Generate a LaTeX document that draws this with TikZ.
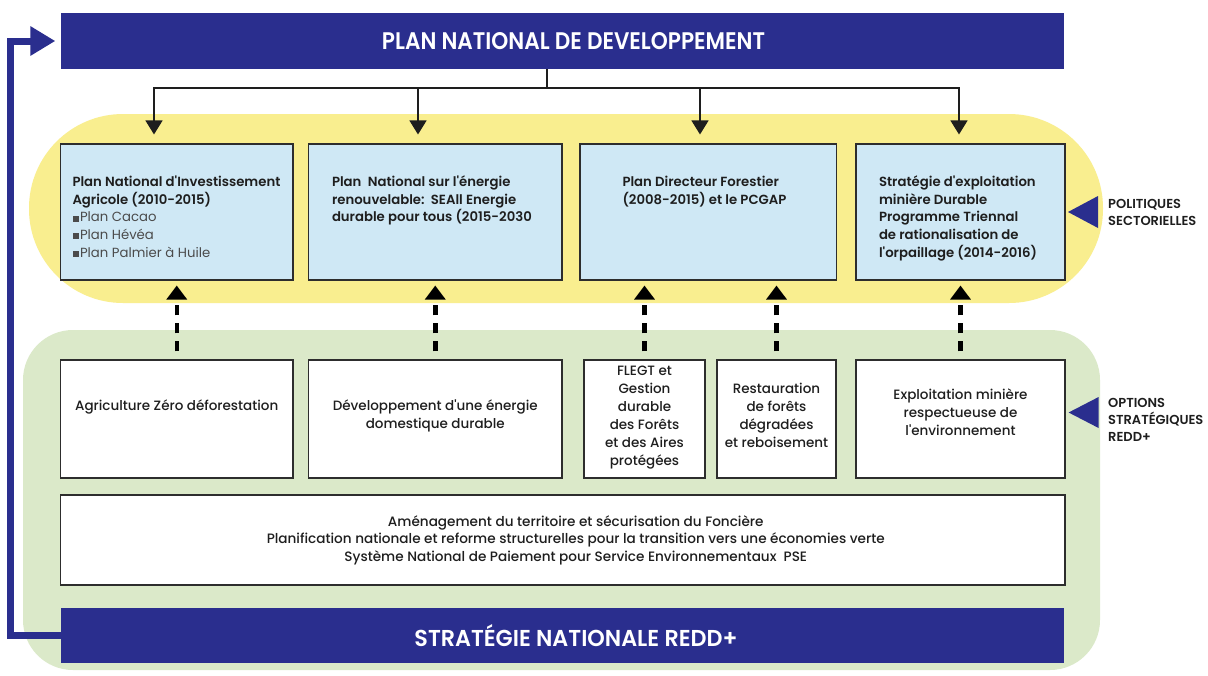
\documentclass[tikz,border=0pt]{standalone}
\usepackage{fontspec}
\usepackage{graphicx}
\setmainfont{Poppins}
\newfontfamily\psb{Poppins SemiBold}
\newfontfamily\pmed{Poppins Medium}
\usetikzlibrary{arrows.meta}
\definecolor{navy}{RGB}{42,46,142}
\definecolor{bandY}{RGB}{249,238,143}
\definecolor{bandG}{RGB}{219,233,201}
\definecolor{lblue}{RGB}{207,232,245}
\definecolor{edge}{RGB}{45,45,45}
\definecolor{ink}{RGB}{30,30,30}
\newcommand\sqb{\rule{6pt}{6pt}\hspace{1.5pt}}
\newcommand\boxtext[5]{\parbox[c][#1][t]{#2}{\raggedright\leftskip=#3\relax\vspace*{#4}\strut #5}}
\newcommand\ctext[4]{\parbox[c][#1][c]{#2}{\centering #4\par\vspace{#3}}}
\begin{document}
\begin{tikzpicture}[x=1pt,y=-1pt,
  banner/.style={fill=navy,text=white,inner sep=0pt,font=\psb},
  bbox/.style={draw=edge,line width=1.1pt,fill=lblue,inner sep=0pt,minimum height=136pt,text=ink,font=\psb\fontsize{13.25}{17.7}\selectfont},
  wbox/.style={draw=edge,line width=1.1pt,fill=white,inner sep=0pt,minimum height=118pt,text=ink,font=\pmed\fontsize{13.5}{18}\selectfont},
  conn/.style={draw=ink,line width=1.3pt},
  downar/.style={conn,-{Triangle[width=17pt,length=14pt]},shorten >=9pt},
  upar/.style={draw=black,line width=4.5pt,dash pattern=on 10pt off 8pt,-{Triangle[width=20pt,length=14pt]},shorten >=5pt,shorten <=8pt},
  fb/.style={draw=navy,line width=7pt,-{Triangle[width=28pt,length=25pt]},shorten >=5.5pt},
  side/.style={anchor=west,align=left,inner sep=0pt,text=ink,font=\psb\fontsize{13}{17}\selectfont}]
\useasboundingbox[fill=white] (0,0) rectangle (1208,675);
% bands
\path[fill=bandY,rounded corners=94pt] (29,114) rectangle (1103,303);
\path[fill=bandG,rounded corners=50pt] (23,330) rectangle (1100,670);
% banners
\node[banner,minimum width=1003pt,minimum height=56pt] (top) at (562.5,41)
  {\hspace*{22pt}\resizebox{383pt}{\height}{\fontsize{24}{24}\selectfont PLAN NATIONAL DE DEVELOPPEMENT}};
\node[banner,minimum width=1003pt,minimum height=55pt] (bot) at (562.5,635.5)
  {\hspace*{27pt}\resizebox{323pt}{\height}{\fontsize{23}{23}\selectfont STRATÉGIE NATIONALE REDD+}};
% policy boxes
\node[bbox,minimum width=232.5pt] (b1) at (176.75,212) {\boxtext{136pt}{232.5pt}{12pt}{30pt}{Plan National d'Investissement\\Agricole (2010-2015)\\{\mdseries\rmfamily\color{ink!80}\sqb Plan Cacao\\\sqb Plan Hévéa\\\sqb Plan Palmier à Huile}}};
\node[bbox,minimum width=253.5pt] (b2) at (435.25,212) {\boxtext{136pt}{253.5pt}{23.5pt}{30pt}{Plan\ \ National sur l'énergie\\renouvelable:\ \ SEAll Energie\\durable pour tous (2015-2030}};
\node[bbox,minimum width=256.5pt] (b3) at (708.25,212) {\boxtext{136pt}{256.5pt}{42.5pt}{30pt}{Plan Directeur Forestier\\(2008-2015) et le PCGAP}};
\node[bbox,minimum width=209pt] (b4) at (960.5,212) {\boxtext{136pt}{209pt}{23pt}{30pt}{Stratégie d'exploitation\\minière Durable\\Programme Triennal\\de rationalisation de\\l'orpaillage (2014-2016)}};
% option boxes
\node[wbox,minimum width=232.5pt] (wA) at (176.75,419) {\ctext{118pt}{232.5pt}{24pt}{Agriculture Zéro déforestation}};
\node[wbox,minimum width=253.5pt] (wB) at (435.25,419) {\ctext{118pt}{253.5pt}{6pt}{Développement d'une énergie\\domestique durable}};
\node[wbox,minimum width=121pt] (wC) at (644.5,419) {\ctext{118pt}{121pt}{2pt}{FLEGT et\\Gestion\\durable\\des Forêts\\et des Aires\\protégées}};
\node[wbox,minimum width=119pt] (wD) at (776.5,419) {\ctext{118pt}{119pt}{8pt}{Restauration\\de forêts\\dégradées\\et reboisement}};
\node[wbox,minimum width=209pt] (wE) at (960.5,419) {\ctext{118pt}{209pt}{13pt}{Exploitation minière\\respectueuse de\\l'environnement}};
\node[wbox,minimum width=1004.5pt,minimum height=90pt,font=\pmed\fontsize{13.6}{17.5}\selectfont] (wide) at (562.75,540)
  {\parbox[c][90pt][c]{1004.5pt}{\centering\leftskip=26pt plus 1fil\relax Aménagement du territoire et sécurisation du Foncière\\Planification nationale et reforme structurelles pour la transition vers une économies verte\\Système National de Paiement pour Service Environnementaux\ \ PSE\par}};
% top connectors
\coordinate (hub) at (547,88);
\draw[conn] (top.south -| hub) -- (hub);
\draw[downar] (hub) -| ([xshift=-22.75pt]b1.north);
\draw[downar] (hub) -| ([xshift=-17.25pt]b2.north);
\draw[downar] (hub) -| ([xshift=-8.25pt]b3.north);
\draw[downar] (hub) -| ([xshift=-1.5pt]b4.north);
% dashed up arrows
\draw[upar] (wA.north) -- (wA.north |- b1.south);
\draw[upar] (wB.north) -- (wB.north |- b2.south);
\draw[upar] (wC.north) -- (wC.north |- b3.south);
\draw[upar] (wD.north) -- (wD.north |- b3.south);
\draw[upar] (wE.north) -- (wE.north |- b4.south);
% feedback arrow
\draw[fb] (bot.west) -- ++(-50.5,0) |- (top.west);
% side labels
\fill[navy] (1068,212) -- (1098,196) -- (1098,228) -- cycle;
\node[side] (lab1) at (1108,212.5) {POLITIQUES\\SECTORIELLES};
\fill[navy] (1068.6,412.5) -- (1098.6,397) -- (1098.6,428) -- cycle;
\node[side] (lab2) at (1108,420) {OPTIONS\\STRATÉGIQUES\\REDD+};
\end{tikzpicture}
\end{document}
